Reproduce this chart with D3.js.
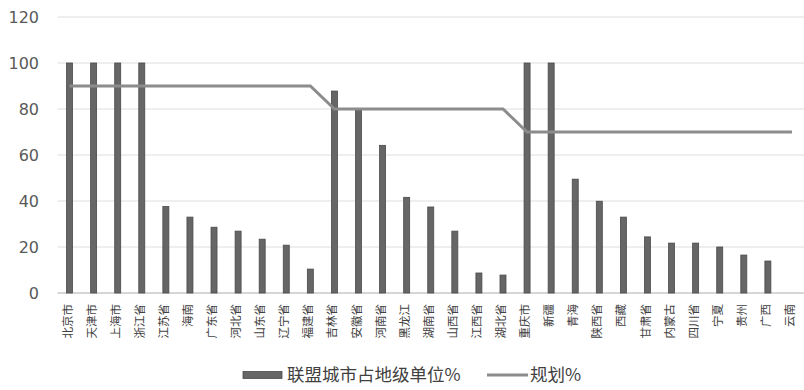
<!DOCTYPE html>
<html>
<head>
<meta charset="utf-8">
<script src="https://cdn.jsdelivr.net/npm/d3@7"></script>
<style>
body { margin: 0; background: #fff; }
</style>
</head>
<body>
<div class="visual"></div>
<script>
// data
const provinces = ["北京市","天津市","上海市","浙江省","江苏省","海南","广东省","河北省","山东省","辽宁省","福建省",
  "吉林省","安徽省","河南省","黑龙江","湖南省","山西省","江西省","湖北省",
  "重庆市","新疆","青海","陕西省","西藏","甘肃省","内蒙古","四川省","宁夏","贵州","广西","云南"];
const alliance = [100,100,100,100,37.6,33,28.6,26.9,23.4,20.8,10.4,
  87.8,79.5,64.2,41.6,37.4,26.9,8.7,7.8,
  100,100,49.5,39.9,33,24.4,21.7,21.7,20,16.5,13.9,0];
const plan = [90,90,90,90,90,90,90,90,90,90,90,
  80,80,80,80,80,80,80,80,
  70,70,70,70,70,70,70,70,70,70,70,70];
const yTicks = [0,20,40,60,80,100,120];
const legendNames = ["联盟城市占地级单位%","规划%"];

//set constants
const width = 804, height = 390;
const margin = {top: 17, bottom: 97, left: 57.5, right: 0};

const svg = d3.select(".visual")
  .append("svg")
  .attr("width", width)
  .attr("height", height);

const x = d3.scaleBand()
  .domain(provinces)
  .range([margin.left, width - margin.right]);
const y = d3.scaleLinear()
  .domain([0, 120])
  .range([height - margin.bottom, margin.top]);

// gridlines
svg.append("g")
  .selectAll("line")
  .data(yTicks)
  .enter()
  .append("line")
  .attr("x1", margin.left)
  .attr("x2", width - margin.right)
  .attr("y1", d => y(d))
  .attr("y2", d => y(d))
  .attr("stroke", d => d == 0 ? "#c8c8c8" : "#dedede")
  .attr("stroke-width", d => d == 0 ? 1.5 : 1);

// y axis
const yAxis = d3.axisLeft(y).tickValues(yTicks).tickSize(0).tickPadding(0);
const yg = svg.append("g")
  .attr("transform", "translate(39,0)")
  .call(yAxis);
yg.select(".domain").remove();
yg.selectAll("text")
  .attr("fill", "#595959")
  .style("font-family", "DejaVu Sans")
  .style("font-size", "16px");

// bars
const barW = 6;
svg.selectAll(".bar")
  .data(alliance)
  .enter()
  .append("rect")
  .attr("class", "bar")
  .attr("x", (d, i) => x(provinces[i]) + x.bandwidth() / 2 - barW / 2)
  .attr("y", d => y(d))
  .attr("width", barW)
  .attr("height", d => y(0) - y(d))
  .attr("fill", d => d > 0 ? "#666" : "none")
  .attr("stroke", d => d > 0 ? "#4a4a4a" : "none")
  .attr("stroke-width", 0.8);

// plan line
const line = d3.line()
  .x((d, i) => x(provinces[i]) + x.bandwidth() / 2)
  .y(d => y(d));
svg.append("path")
  .datum(plan)
  .attr("d", line)
  .attr("fill", "none")
  .attr("stroke", "#8c8c8c")
  .attr("stroke-width", 3);

// x labels
const xAxis = d3.axisBottom(x).tickSize(0).tickPadding(0);
const xg = svg.append("g")
  .attr("transform", "translate(-2," + (y(0) + 11) + ")")
  .call(xAxis);
xg.select(".domain").remove();
xg.selectAll("text")
  .attr("transform", "rotate(-90)")
  .attr("x", 0)
  .attr("y", 0)
  .attr("dy", "0.35em")
  .style("text-anchor", "end")
  .attr("fill", "#404040")
  .style("font-family", "Noto Sans CJK SC")
  .style("font-size", "11.5px");

//legend
const legend = svg.append("g").attr("transform", "translate(0,375)");
legend.append("rect")
  .attr("x", 243).attr("y", -3.5)
  .attr("width", 39).attr("height", 7)
  .attr("fill", "#666").attr("stroke", "#4a4a4a").attr("stroke-width", 0.8);
legend.append("text")
  .attr("x", 287).attr("y", 0).attr("dy", "0.35em")
  .text(legendNames[0]);
legend.append("line")
  .attr("x1", 487).attr("x2", 528)
  .attr("y1", 0).attr("y2", 0)
  .attr("stroke", "#8c8c8c").attr("stroke-width", 3);
legend.append("text")
  .attr("x", 530).attr("y", 0).attr("dy", "0.35em")
  .text(legendNames[1]);
legend.selectAll("text")
  .attr("fill", "#404040")
  .style("font-family", "Noto Sans CJK SC")
  .style("font-size", "17.5px");
</script>
</body>
</html>
